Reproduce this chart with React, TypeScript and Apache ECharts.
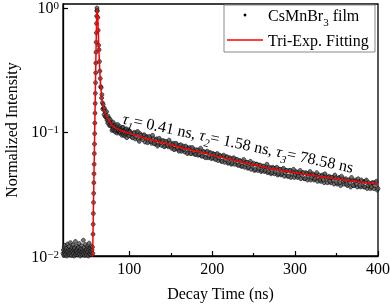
import React, { useEffect, useRef } from 'react';
import * as echarts from 'echarts';

const FONT = "'Liberation Serif', 'Times New Roman', serif";

// Measured decay trace (normalized counts)
const baselineStart = 20;
const baselineStep = 0.5;
const baselineValues = [
  0.0105, 0.0112, 0.0101, 0.0118, 0.0108, 0.0122, 0.0103, 0.011, 0.0115, 0.01,
  0.0109, 0.0125, 0.0104, 0.0113, 0.0107, 0.0119, 0.0102, 0.0111, 0.0128, 0.0106,
  0.0114, 0.0101, 0.0117, 0.0109, 0.0123, 0.0105, 0.0112, 0.01, 0.0116, 0.0108,
  0.0131, 0.0103, 0.011, 0.012, 0.0106, 0.0114, 0.0102, 0.0118, 0.0109, 0.0126,
  0.0104, 0.0111, 0.01, 0.0115, 0.0107, 0.0121, 0.0103, 0.0112, 0.0108, 0.0134,
  0.0105, 0.0117, 0.0101, 0.011, 0.0124, 0.0106, 0.0113, 0.0102, 0.0119, 0.0108,
  0.0115, 0.01, 0.0111, 0.0127, 0.0104, 0.0116, 0.0109, 0.0103, 0.012, 0.0107,
  0.0112, 0.0118, 0.0105,
];

const riseStart = 56.2;
const riseStep = 0.2;
const riseValues = [
  0.015, 0.018, 0.022, 0.027, 0.032, 0.039, 0.046, 0.055, 0.067, 0.08, 0.097, 0.118,
  0.142, 0.17, 0.205, 0.25, 0.3, 0.36, 0.44, 0.53, 0.63, 0.75, 0.86, 0.95,
];

const decayStart = 61;
const decayStep = 0.5;
const decayValues = [
  1.0, 0.95, 0.84, 0.66, 0.5, 0.46, 0.37, 0.31, 0.27, 0.232,
  0.228, 0.188, 0.2, 0.172, 0.153, 0.167, 0.156, 0.138, 0.155, 0.147,
  0.133, 0.143, 0.132, 0.146, 0.125, 0.131, 0.118, 0.134, 0.122, 0.128,
  0.113, 0.122, 0.126, 0.112, 0.114, 0.12, 0.103, 0.116, 0.106, 0.12,
  0.108, 0.103, 0.113, 0.109, 0.1, 0.114, 0.104, 0.109, 0.098, 0.111,
  0.115, 0.101, 0.104, 0.107, 0.098, 0.111, 0.101, 0.098, 0.107, 0.103,
  0.094, 0.108, 0.098, 0.109, 0.095, 0.103, 0.099, 0.093, 0.105, 0.103,
  0.096, 0.106, 0.09, 0.1, 0.102, 0.096, 0.104, 0.093, 0.1,
];

const tailStart = 101;
const tailStep = 2;
const tailValues = [
  0.101, 0.091, 0.098, 0.088, 0.099, 0.087, 0.097, 0.09, 0.094, 0.083,
  0.092, 0.084, 0.09, 0.081, 0.089, 0.08, 0.088, 0.079, 0.086, 0.078,
  0.085, 0.077, 0.083, 0.076, 0.082, 0.074, 0.081, 0.073, 0.08, 0.072,
  0.078, 0.07, 0.077, 0.069, 0.075, 0.068, 0.075, 0.067, 0.073, 0.066,
  0.072, 0.065, 0.071, 0.064, 0.07, 0.063, 0.069, 0.062, 0.068, 0.061,
  0.067, 0.061, 0.066, 0.059, 0.065, 0.058, 0.064, 0.057, 0.063, 0.056,
  0.062, 0.055, 0.061, 0.055, 0.06, 0.054, 0.059, 0.053, 0.058, 0.052,
  0.057, 0.051, 0.056, 0.05, 0.055, 0.049, 0.055, 0.049, 0.054, 0.048,
  0.053, 0.048, 0.052, 0.047, 0.052, 0.046, 0.052, 0.046, 0.051, 0.045,
  0.05, 0.045, 0.05, 0.044, 0.049, 0.044, 0.049, 0.043, 0.048, 0.043,
  0.048, 0.043, 0.047, 0.042, 0.047, 0.042, 0.047, 0.041, 0.046, 0.041,
  0.046, 0.041, 0.045, 0.04, 0.045, 0.04, 0.045, 0.039, 0.044, 0.039,
  0.044, 0.039, 0.043, 0.038, 0.043, 0.038, 0.043, 0.037, 0.042, 0.038,
  0.042, 0.037, 0.041, 0.036, 0.041, 0.037, 0.041, 0.036, 0.04, 0.036,
  0.04, 0.036, 0.04, 0.035, 0.039, 0.035, 0.039, 0.035, 0.039, 0.034,
];

const tail2Start = 102;
const tail2Step = 2;
const tail2Values = [
  0.097, 0.09, 0.099, 0.092, 0.101, 0.084, 0.094, 0.087, 0.095, 0.09,
  0.082, 0.092, 0.084, 0.094, 0.081, 0.086, 0.077, 0.089, 0.082, 0.085,
  0.076, 0.084, 0.078, 0.086, 0.077, 0.079, 0.072, 0.081, 0.074, 0.07,
  0.079, 0.073, 0.072, 0.077, 0.067, 0.073, 0.067, 0.075, 0.069, 0.066,
  0.071, 0.066, 0.074, 0.064, 0.069, 0.062, 0.07, 0.064, 0.068, 0.062,
  0.066, 0.06, 0.067, 0.062, 0.064, 0.058, 0.065, 0.06, 0.063, 0.057,
  0.061, 0.056, 0.062, 0.058, 0.06, 0.054, 0.058, 0.053, 0.06, 0.055,
  0.057, 0.052, 0.058, 0.053, 0.056, 0.05, 0.055, 0.051, 0.054, 0.049,
  0.053, 0.049, 0.055, 0.048, 0.051, 0.047, 0.051, 0.048, 0.052, 0.046,
  0.05, 0.046, 0.051, 0.047, 0.049, 0.044, 0.049, 0.046, 0.05, 0.045,
  0.047, 0.044, 0.049, 0.045, 0.047, 0.042, 0.046, 0.044, 0.048, 0.043,
  0.045, 0.042, 0.047, 0.043, 0.041, 0.044, 0.041, 0.046, 0.042, 0.043,
  0.04, 0.043, 0.041, 0.045, 0.039, 0.042, 0.039, 0.044, 0.04, 0.041,
  0.038, 0.041, 0.039, 0.043, 0.037, 0.04, 0.038, 0.042, 0.037, 0.041,
  0.039, 0.036, 0.041, 0.037, 0.038, 0.036, 0.039, 0.037, 0.04, 0.035,
];

// Tri-exponential fit curve
const fitTimes = [
  55.7, 56.5, 57.5, 58.5, 59.5, 60.3, 61, 61.6, 62.3, 63.2, 64.2, 65.3, 66.6, 68, 69.5,
  71, 73, 76, 79, 84, 89, 95, 101, 113, 125, 137, 150, 165, 185, 209, 237, 266, 300,
  340, 370, 400,
];
const fitValues = [
  0.0095, 0.02, 0.05, 0.13, 0.33, 0.7, 0.98, 0.95, 0.72, 0.48, 0.33, 0.24, 0.195, 0.165,
  0.152, 0.141, 0.132, 0.121, 0.113, 0.107, 0.103, 0.1, 0.097, 0.092, 0.087, 0.083, 0.079,
  0.074, 0.069, 0.063, 0.057, 0.0515, 0.047, 0.0428, 0.0403, 0.038,
];

const xTickValues = [100, 200, 300, 400];
const xMinorTickValues = [50, 150, 250, 350];
const yTickValues = [0.01, 0.1, 1];

const seriesName1 = 'CsMnBr3 film';
const seriesName2 = 'Tri-Exp. Fitting';

function segment(t0: number, step: number, vals: number[]) {
  return vals.map((v, i) => [Math.round((t0 + i * step) * 100) / 100, v]);
}

export default function App() {
  const ref = useRef<HTMLDivElement>(null);
  useEffect(() => {
    const chart = echarts.init(ref.current!, null, { renderer: 'svg' });
    const scatterData = [
      ...segment(baselineStart, baselineStep, baselineValues),
      ...segment(riseStart, riseStep, riseValues),
      ...segment(decayStart, decayStep, decayValues),
      ...segment(tailStart, tailStep, tailValues),
      ...segment(tail2Start, tail2Step, tail2Values),
    ];
    const fitData = fitTimes.map((t, i) => [t, fitValues[i]]);

    const sub = (size: number, pad: number, italic = false) => ({
      fontSize: size,
      fontFamily: FONT,
      fontStyle: italic ? 'italic' : 'normal',
      verticalAlign: 'top',
      lineHeight: size,
      padding: [pad, 0, 0, 0],
      color: '#000',
    });

    chart.setOption({
      animation: false,
      grid: {
        left: 63,
        right: 12,
        top: 4,
        bottom: 48,
        containLabel: false,
        outerBoundsMode: 'none',
        show: true,
        borderColor: '#000',
        borderWidth: 1.3,
        backgroundColor: 'transparent',
      },
      xAxis: [
        {
          type: 'value',
          min: 20,
          max: 400,
          name: 'Decay Time (ns)',
          nameLocation: 'middle',
          nameGap: 29,
          nameTextStyle: { fontFamily: FONT, fontSize: 16, color: '#000' },
          axisLine: { show: true, lineStyle: { color: '#000', width: 1.3 } },
          axisTick: { show: true, inside: true, length: 5, customValues: xTickValues, lineStyle: { color: '#000', width: 1.2 } },
          axisLabel: { customValues: xTickValues, fontFamily: FONT, fontSize: 16, color: '#000', margin: 4 },
          splitLine: { show: false },
        },
        {
          type: 'value',
          min: 20,
          max: 400,
          position: 'bottom',
          axisLine: { show: false },
          axisTick: { show: true, inside: true, length: 3, customValues: xMinorTickValues, lineStyle: { color: '#000', width: 1.2 } },
          axisLabel: { show: false },
          splitLine: { show: false },
        },
      ],
      yAxis: {
        type: 'log',
        logBase: 10,
        min: 0.01,
        max: 1.077,
        name: 'Normalized Intensity',
        nameLocation: 'middle',
        nameGap: 44,
        nameTextStyle: { fontFamily: FONT, fontSize: 16, color: '#000' },
        axisLine: { show: true, lineStyle: { color: '#000', width: 1.3 } },
        axisTick: { show: true, inside: true, length: 5, customValues: yTickValues, lineStyle: { color: '#000', width: 1.2 } },
        minorTick: { show: false },
        splitLine: { show: false },
        axisLabel: {
          customValues: yTickValues,
          margin: 4,
          formatter: (v: number) => {
            const e = Math.round(Math.log10(v));
            const s = e < 0 ? '\u2212' + -e : String(e);
            return '{b|10}{s|' + s + '}';
          },
          rich: {
            b: { fontFamily: FONT, fontSize: 16, color: '#000', lineHeight: 16, verticalAlign: 'bottom' },
            s: { fontFamily: FONT, fontSize: 11, color: '#000', lineHeight: 11, verticalAlign: 'bottom', padding: [0, 0, 5, 0] },
          },
        },
      },
      series: [
        {
          name: seriesName1,
          type: 'scatter',
          data: scatterData,
          symbol: 'circle',
          symbolSize: 4,
          itemStyle: { color: '#555', borderColor: '#000', borderWidth: 0.7 },
          z: 2,
        },
        {
          name: seriesName2,
          type: 'line',
          data: fitData,
          showSymbol: false,
          symbol: 'none',
          lineStyle: { color: '#ff0000', width: 1.5 },
          clip: true,
          z: 3,
        },
      ],
      graphic: [
        {
          type: 'rect',
          shape: { x: 224, y: 5, width: 151, height: 47 },
          style: { fill: '#fff', stroke: '#888', lineWidth: 1 },
          z: 10,
        },
        {
          type: 'circle',
          shape: { cx: 245, cy: 15, r: 1.4 },
          style: { fill: '#000' },
          z: 11,
        },
        {
          type: 'text',
          x: 268,
          y: 15,
          z: 11,
          style: {
            text: '{a|CsMnBr}{s|3}{a| film}',
            rich: {
              a: sub(16, 0),
              s: sub(11, 9),
            },
            align: 'left',
            verticalAlign: 'middle',
          },
        },
        {
          type: 'line',
          shape: { x1: 227, y1: 40, x2: 263, y2: 40 },
          style: { stroke: '#ff0000', lineWidth: 1.5 },
          z: 11,
        },
        {
          type: 'text',
          x: 268,
          y: 40,
          z: 11,
          style: {
            text: seriesName2,
            fontFamily: FONT,
            fontSize: 16,
            fill: '#000',
            align: 'left',
            verticalAlign: 'middle',
          },
        },
        {
          type: 'text',
          x: 123,
          y: 118,
          rotation: -0.212,
          z: 11,
          style: {
            text: '{t|\u03c4}{u|1}{n|= 0.41 ns, }{t|\u03c4}{u|2}{n|= 1.58 ns, }{t|\u03c4}{u|3}{n|= 78.58 ns}',
            rich: {
              t: sub(16, 0, true),
              u: sub(11, 9, true),
              n: sub(16, 0),
            },
            align: 'left',
            verticalAlign: 'middle',
          },
        },
      ],
    });
    return () => chart.dispose();
  }, []);
  return <div ref={ref} style={{ position: 'fixed', left: 0, top: 0, width: 390, height: 304 }} />;
}
